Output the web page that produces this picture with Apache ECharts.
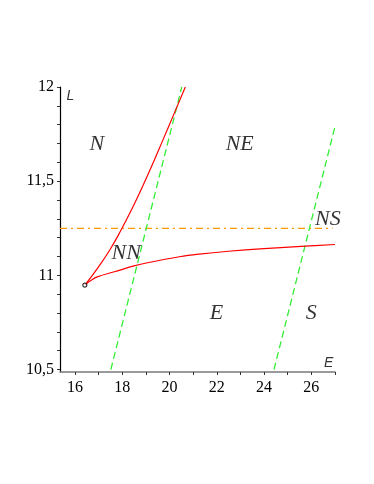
<!DOCTYPE html>
<html>
<head>
<meta charset="utf-8">
<script src="https://cdn.jsdelivr.net/npm/echarts@6/dist/echarts.min.js"></script>
<style>
  html, body { margin: 0; padding: 0; background: #fff; }
  #chart { width: 374px; height: 484px; }
</style>
</head>
<body>
<div id="chart"></div>
<script>
// red curve, upper branch (E, L)
var upperE = [16.42, 17.0, 17.5, 17.97, 18.4, 18.8, 19.25, 19.72, 20.2, 20.67]
var upperL = [10.948, 11.045, 11.14, 11.245, 11.35, 11.455, 11.58, 11.718, 11.86, 12.0]
// red curve, lower branch
var lowerE = [16.42, 16.7, 16.97, 17.67, 18.5, 19.07, 20.42, 21.26, 22.5, 24, 25.75, 27]
var lowerL = [10.948, 10.975, 10.993, 11.019, 11.05, 11.067, 11.099, 11.113, 11.128, 11.142, 11.155, 11.164]
// green dashed lines
var green1E = [17.52, 20.52]
var green1L = [10.5, 12.0]
var green2E = [24.42, 27.0]
var green2L = [10.5, 11.79]
// orange dash-dot level
var levelE = [15.37, 26.9]
var levelL = [11.25, 11.25]
// cusp point
var cuspE = 16.42
var cuspL = 10.948
// region labels
var regionNames = ['N', 'NE', 'NS', 'NN', 'E', 'S']
var regionE = [16.93, 22.97, 26.7, 18.17, 21.99, 26.0]
var regionL = [11.697, 11.697, 11.3, 11.117, 10.8, 10.8]
// ticks
var xTicks = [16, 17, 18, 19, 20, 21, 22, 23, 24, 25, 26, 27]
var xLabels = [16, 18, 20, 22, 24, 26]
var yTicks = [10.5, 10.6, 10.7, 10.8, 10.9, 11.0, 11.1, 11.2, 11.3, 11.4, 11.5, 11.6, 11.7, 11.8, 11.9, 12.0]
var yLabels = [10.5, 11, 11.5, 12]

function pairs(xs, ys) {
  var out = []
  for (var i = 0; i < xs.length; i++) out.push([xs[i], ys[i]])
  return out
}

var chart = echarts.init(document.getElementById('chart'))

var regionData = regionNames.map(function (n, i) {
  return { value: [regionE[i], regionL[i]], name: n }
})

var option = {
  animation: false,
  grid: { left: 60, top: 87, width: 275, height: 285 },
  xAxis: {
    type: 'value',
    min: 15.37,
    max: 27,
    splitLine: { show: false },
    axisLine: { onZero: false, lineStyle: { color: '#7a7a7a', width: 1.5 } },
    axisTick: { customValues: xTicks, length: 3, lineStyle: { color: '#333' } },
    axisLabel: {
      customValues: xLabels,
      color: '#000',
      fontFamily: 'Liberation Serif',
      fontSize: 16,
      margin: 8
    }
  },
  yAxis: {
    type: 'value',
    min: 10.487,
    max: 12,
    splitLine: { show: false },
    axisLine: { show: true, onZero: false, lineStyle: { color: '#000', width: 1.2 } },
    axisTick: { customValues: yTicks, length: 3, lineStyle: { color: '#333' } },
    axisLabel: {
      customValues: yLabels,
      color: '#000',
      fontFamily: 'Liberation Serif',
      fontSize: 16,
      margin: 6,
      formatter: function (v) { return String(v).replace('.', ',') }
    }
  },
  series: [
    {
      type: 'line',
      data: pairs(levelE, levelL),
      showSymbol: false,
      lineStyle: { color: '#ff9900', width: 1.3, type: [7, 4, 2, 4] }
    },
    {
      type: 'line',
      data: pairs(green1E, green1L),
      showSymbol: false,
      lineStyle: { color: '#33ee33', width: 1.3, type: [7, 4] }
    },
    {
      type: 'line',
      data: pairs(green2E, green2L),
      showSymbol: false,
      lineStyle: { color: '#33ee33', width: 1.3, type: [7, 4] }
    },
    {
      type: 'line',
      data: pairs(upperE, upperL),
      showSymbol: false,
      smooth: 0.5,
      lineStyle: { color: '#ff0000', width: 1.2 }
    },
    {
      type: 'line',
      data: pairs(lowerE, lowerL),
      showSymbol: false,
      smooth: 0.4,
      lineStyle: { color: '#ff0000', width: 1.2 }
    },
    {
      type: 'scatter',
      data: [[cuspE, cuspL]],
      symbol: 'circle',
      symbolSize: 4,
      itemStyle: { color: '#fff', borderColor: '#000', borderWidth: 1.2 },
      z: 5
    },
    {
      type: 'scatter',
      data: regionData,
      symbolSize: 0,
      label: {
        show: true,
        position: 'inside',
        formatter: '{b}',
        color: '#000',
        fontFamily: 'Liberation Serif',
        fontStyle: 'italic',
        fontSize: 22
      },
      z: 6
    },
    {
      type: 'scatter',
      data: [
        { value: [15.81, 11.949], name: 'L' },
        { value: [26.73, 10.533], name: 'E' }
      ],
      symbolSize: 0,
      label: {
        show: true,
        position: 'inside',
        formatter: '{b}',
        color: '#000',
        fontFamily: 'Liberation Sans',
        fontStyle: 'italic',
        fontSize: 14
      },
      z: 6
    }
  ]
}

chart.setOption(option)
</script>
</body>
</html>
